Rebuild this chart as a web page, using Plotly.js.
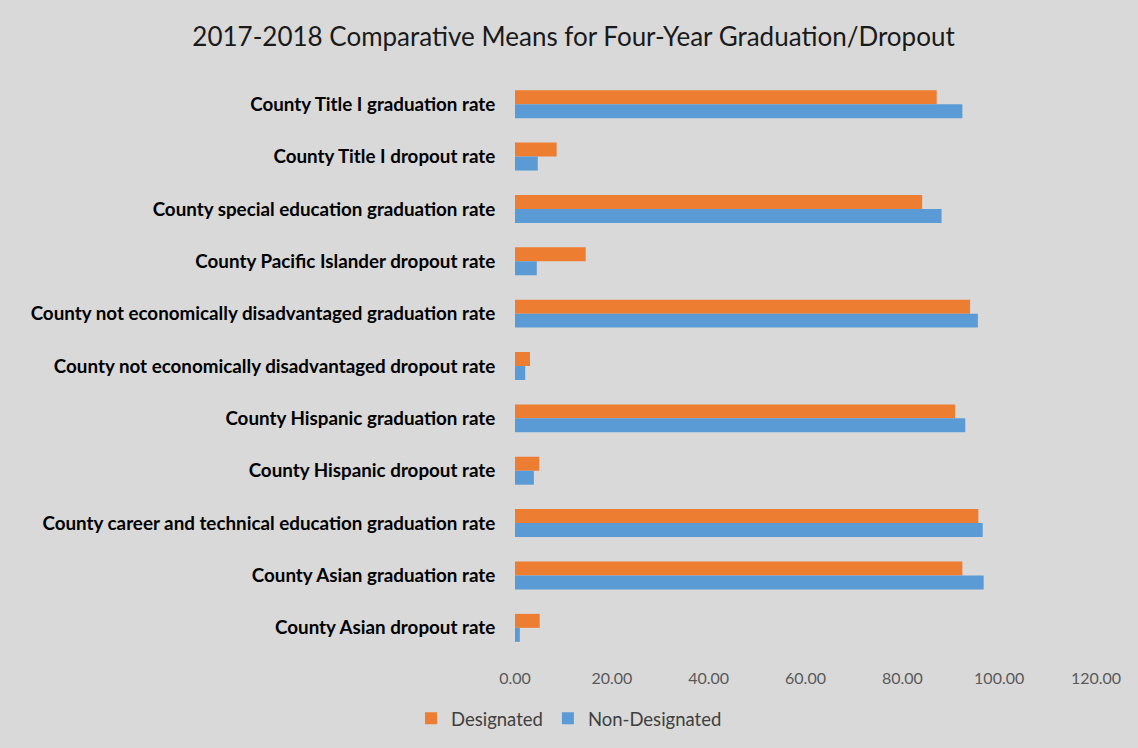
<!DOCTYPE html>
<html>
<head>
<meta charset="utf-8">
<script src="https://cdn.plot.ly/plotly-3.0.1.min.js"></script>
<style>html,body{margin:0;padding:0;background:#d9d9d9;}#chart{width:1138px;height:748px;}</style>
</head>
<body>
<div id="chart"></div>
<script>
const categories = [
  "County Title I graduation rate",
  "County Title I dropout rate",
  "County special education graduation rate",
  "County Pacific Islander dropout rate",
  "County not economically disadvantaged graduation rate",
  "County not economically disadvantaged dropout rate",
  "County Hispanic graduation rate",
  "County Hispanic dropout rate",
  "County career and technical education graduation rate",
  "County Asian graduation rate",
  "County Asian dropout rate"
];
const designated =    [87.1, 8.6, 84.1, 14.6, 94.0, 3.1, 90.9, 5.0, 95.7, 92.4, 5.1];
const nonDesignated = [92.4, 4.7, 88.1, 4.5, 95.6, 2.1, 93.0, 3.9, 96.6, 96.8, 1.0];
const xTicks = [0, 20, 40, 60, 80, 100, 120];
const xTickText = ["0.00", "20.00", "40.00", "60.00", "80.00", "100.00", "120.00"];

const traces = [
  {type: "bar", orientation: "h", name: "Designated", y: categories, x: designated,
   marker: {color: "#ed7d31"}},
  {type: "bar", orientation: "h", name: "Non-Designated", y: categories, x: nonDesignated,
   marker: {color: "#5b9bd5"}}
];

const layout = {
  width: 1138, height: 748,
  paper_bgcolor: "#d9d9d9", plot_bgcolor: "#d9d9d9",
  margin: {l: 515, r: 41.5, t: 78, b: 94},
  barmode: "group", bargap: 0.466, bargroupgap: 0,
  font: {family: "Lato, 'Open Sans', sans-serif", color: "#404040"},
  title: {text: "2017-2018 Comparative Means for Four-Year Graduation/Dropout",
          font: {size: 26, color: "#1a1a1a", family: "Lato, sans-serif"},
          xref: "container", x: 0.504, xanchor: "center",
          yref: "container", y: 0.951, yanchor: "middle"},
  xaxis: {range: [0, 120], tickvals: xTicks, ticktext: xTickText,
          showgrid: false, zeroline: false, showline: false,
          ticks: "outside", ticklen: 10, tickcolor: "rgba(0,0,0,0)",
          tickfont: {size: 16, color: "#595959"}},
  yaxis: {type: "category", categoryorder: "array", categoryarray: categories,
          autorange: "reversed", showgrid: false, zeroline: false, showline: false,
          ticks: "outside", ticklen: 15, tickcolor: "rgba(0,0,0,0)",
          tickfont: {size: 18.8, color: "#000000", family: "Lato, sans-serif", weight: "bold"}},
  legend: {orientation: "h", xref: "container", x: 0.5, xanchor: "center",
           yref: "container", y: 0.039, yanchor: "middle",
           font: {size: 18.5, color: "#404040"}, itemwidth: 30,
           bgcolor: "rgba(0,0,0,0)"},
  showlegend: true
};

Plotly.newPlot("chart", traces, layout, {displayModeBar: false, staticPlot: true});
</script>
</body>
</html>
